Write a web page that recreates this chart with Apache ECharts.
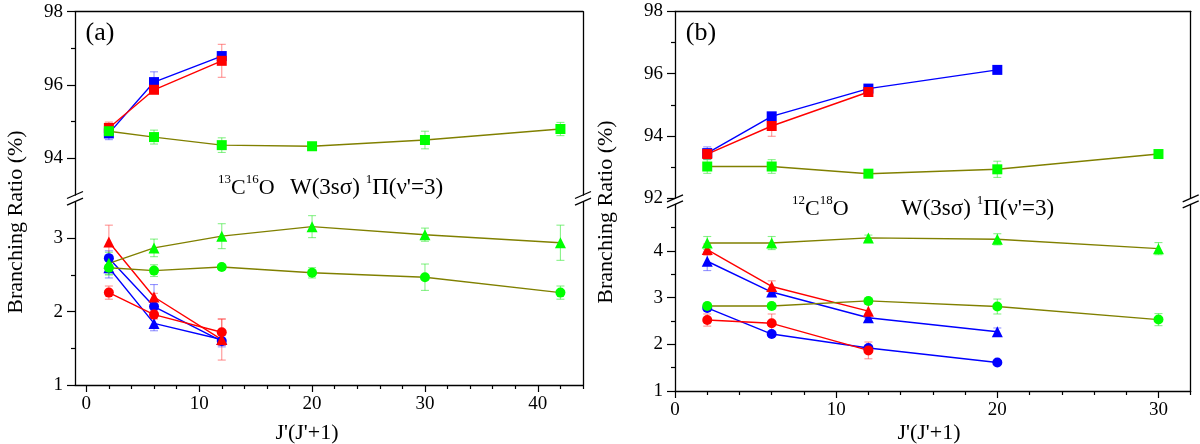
<!DOCTYPE html>
<html><head><meta charset="utf-8">
<script src="https://cdn.jsdelivr.net/npm/echarts@6/dist/echarts.min.js"></script>
<style>html,body{margin:0;padding:0;background:#fff}#c{width:1200px;height:444px}</style>
</head><body><div id="c"></div>
<script>
// ---------- Panel (a): 13C16O ----------
const xA = [2, 6, 12, 20, 30, 42];
const aBlueSq = [94.68, 96.08, 96.79];   const aBlueSqErr = [0.17, 0.28, 0.10];
const aRedSq = [94.83, 95.87, 96.66];    const aRedSqErr = [0.16, 0.06, 0.45];
const aGreenSq = [94.74, 94.58, 94.36, 94.33, 94.50, 94.80];
const aGreenSqErr = [0.14, 0.19, 0.20, 0.06, 0.24, 0.18];
const aBlueCirc = [2.73, 2.07, 1.60];    const aBlueCircErr = [0.10, 0.30, 0.08];
const aBlueTri = [2.60, 1.84, 1.62];     const aBlueTriErr = [0.14, 0.10, 0.08];
const aRedTri = [2.95, 2.20, 1.62];      const aRedTriErr = [0.23, 0.05, 0.28];
const aRedCirc = [2.26, 1.96, 1.72];     const aRedCircErr = [0.09, 0.06, 0.18];
const aGreenTri = [2.66, 2.87, 3.03, 3.16, 3.05, 2.94];
const aGreenTriErr = [0.15, 0.12, 0.17, 0.15, 0.09, 0.24];
const aGreenCirc = [2.60, 2.56, 2.61, 2.53, 2.47, 2.26];
const aGreenCircErr = [0.10, 0.08, 0.03, 0.07, 0.18, 0.09];

// ---------- Panel (b): 12C18O ----------
const xB = [2, 6, 12, 20, 30];
const bBlueSq = [93.45, 94.63, 95.52, 96.12]; const bBlueSqErr = [0.20, 0.06, 0.06, 0.05];
const bRedSq = [93.42, 94.32, 95.41];         const bRedSqErr = [0.10, 0.33, 0.08];
const bGreenSq = [93.02, 93.02, 92.79, 92.93, 93.42];
const bGreenSqErr = [0.22, 0.22, 0.05, 0.26, 0.05];
const bBlueTri = [3.78, 3.12, 2.57, 2.27];    const bBlueTriErr = [0.20, 0.06, 0.08, 0.08];
const bBlueCirc = [2.78, 2.22, 1.92, 1.61];   const bBlueCircErr = [0.05, 0.05, 0.05, 0.03];
const bRedTri = [4.03, 3.24, 2.71];           const bRedTriErr = [0.12, 0.12, 0.15];
const bRedCirc = [2.52, 2.45, 1.87];          const bRedCircErr = [0.13, 0.20, 0.18];
const bGreenTri = [4.17, 4.17, 4.28, 4.25, 4.05];
const bGreenTriErr = [0.14, 0.14, 0.06, 0.12, 0.13];
const bGreenCirc = [2.82, 2.82, 2.93, 2.81, 2.53];
const bGreenCircErr = [0.06, 0.06, 0.06, 0.16, 0.13];

// ---------- ticks ----------
const aXTicks = [0, 10, 20, 30, 40];
const aXMinor = [2, 4, 6, 8, 12, 14, 16, 18, 22, 24, 26, 28, 32, 34, 36, 38, 42, 44];
const bXTicks = [0, 10, 20, 30];
const bXMinor = [2, 4, 6, 8, 12, 14, 16, 18, 22, 24, 26, 28, 32];
const aUpTicks = [94, 96, 98];  const aUpMinor = [95, 97];
const aLoTicks = [1, 2, 3];     const aLoMinor = [1.5, 2.5];
const bUpTicks = [92, 94, 96, 98]; const bUpMinor = [93, 95, 97];
const bLoTicks = [1, 2, 3, 4];  const bLoMinor = [1.5, 2.5, 3.5, 4.5];

const FONT = "'Liberation Serif','Times New Roman',serif";
const GA = {left: 75, right: 583, upTop: 11.7, upBot: 195, loTop: 201.7, loBot: 385};
const GB = {left: 675, right: 1190.7, upTop: 11.3, upBot: 198.3, loTop: 204.3, loBot: 391};

const BLUE = '#0000ff', RED = '#ff0000', GREEN = '#00ff00', OLIVE = '#808000';
const BLUE_E = 'rgba(60,60,255,0.55)', RED_E = 'rgba(255,60,60,0.55)', GREEN_E = 'rgba(40,230,40,0.55)';

function grid(left, right, top, bot) {
  return {left: left, top: top, width: right - left, height: bot - top, containLabel: false, outerBoundsMode: 'none'};
}
const line = {show: true, onZero: false, lineStyle: {color: '#000', width: 1.3}};
function xLineOnly(g, min, max, pos) {
  return {gridIndex: g, type: 'value', min: min, max: max, position: pos, axisLine: line,
    axisTick: {show: false}, axisLabel: {show: false}, splitLine: {show: false}};
}
function xMain(g, min, max, ticks) {
  return {gridIndex: g, type: 'value', min: min, max: max, position: 'bottom', axisLine: line,
    axisTick: {show: true, length: 7, customValues: ticks, lineStyle: {color: '#000', width: 1.2}},
    axisLabel: {show: true, customValues: ticks, fontFamily: FONT, fontSize: 19, color: '#000', margin: 10},
    splitLine: {show: false}};
}
function xMinor(g, min, max, ticks) {
  return {gridIndex: g, type: 'value', min: min, max: max, position: 'bottom', axisLine: {show: false, onZero: false},
    axisTick: {show: true, length: 4, customValues: ticks, lineStyle: {color: '#000', width: 1.2}},
    axisLabel: {show: false}, splitLine: {show: false}};
}
function yMain(g, min, max, ticks) {
  return {gridIndex: g, type: 'value', min: min, max: max, position: 'left', axisLine: line,
    axisTick: {show: true, length: 8, customValues: ticks, lineStyle: {color: '#000', width: 1.2}},
    axisLabel: {show: true, customValues: ticks, fontFamily: FONT, fontSize: 19, color: '#000', margin: 12},
    splitLine: {show: false}};
}
function yMinor(g, min, max, ticks) {
  return {gridIndex: g, type: 'value', min: min, max: max, position: 'left', axisLine: {show: false, onZero: false},
    axisTick: {show: true, length: 4, customValues: ticks, lineStyle: {color: '#000', width: 1.2}},
    axisLabel: {show: false}, splitLine: {show: false}};
}
function yRight(g, min, max) {
  return {gridIndex: g, type: 'value', min: min, max: max, position: 'right', axisLine: line,
    axisTick: {show: false}, axisLabel: {show: false}, splitLine: {show: false}};
}

const xAxes = [
  xLineOnly(0, -1, 44, 'top'),     // 0 panel a upper
  xMain(1, -1, 44, aXTicks),       // 1 panel a lower
  xMinor(1, -1, 44, aXMinor),      // 2
  xLineOnly(2, 0, 32, 'top'),      // 3 panel b upper
  xMain(3, 0, 32, bXTicks),        // 4 panel b lower
  xMinor(3, 0, 32, bXMinor)        // 5
];
const yAxes = [
  yMain(0, 93, 98, aUpTicks), yMinor(0, 93, 98, aUpMinor), yRight(0, 93, 98),     // 0,1,2
  yMain(1, 1, 3.5, aLoTicks), yMinor(1, 1, 3.5, aLoMinor), yRight(1, 1, 3.5),     // 3,4,5
  yMain(2, 92, 98, bUpTicks), yMinor(2, 92, 98, bUpMinor), yRight(2, 92, 98),     // 6,7,8
  yMain(3, 1, 5, bLoTicks), yMinor(3, 1, 5, bLoMinor), yRight(3, 1, 5)            // 9,10,11
];

function errRender(color) {
  return function (params, api) {
    const x = api.value(0), y = api.value(1), e = api.value(2);
    const t = api.coord([x, y + e]), b = api.coord([x, y - e]);
    const hw = 4, st = {stroke: color, lineWidth: 1.1};
    return {type: 'group', children: [
      {type: 'line', shape: {x1: t[0], y1: t[1], x2: b[0], y2: b[1]}, style: st},
      {type: 'line', shape: {x1: t[0] - hw, y1: t[1], x2: t[0] + hw, y2: t[1]}, style: st},
      {type: 'line', shape: {x1: b[0] - hw, y1: b[1], x2: b[0] + hw, y2: b[1]}, style: st}
    ]};
  };
}

const errs = [], lines = [], marks = [];
function add(xs, ys, es, sym, color, lineColor, errColor, xi, yi) {
  const pts = ys.map((v, i) => [xs[i], v]);
  errs.push({type: 'custom', xAxisIndex: xi, yAxisIndex: yi, z: 1, silent: true, clip: false,
    encode: {x: 0, y: 1}, data: ys.map((v, i) => [xs[i], v, es[i]]), renderItem: errRender(errColor)});
  lines.push({type: 'line', xAxisIndex: xi, yAxisIndex: yi, z: 2, silent: true, data: pts,
    symbol: 'none', lineStyle: {color: lineColor, width: 1.4}});
  marks.push({type: 'scatter', xAxisIndex: xi, yAxisIndex: yi, z: 3, silent: true, data: pts,
    symbol: sym, symbolSize: sym === 'triangle' ? 11 : 10, itemStyle: {color: color, opacity: 1}});
}
// panel a upper (grid 0: xAxis 0, yAxis 0)
add(xA, aBlueSq, aBlueSqErr, 'rect', BLUE, BLUE, BLUE_E, 0, 0);
add(xA, aRedSq, aRedSqErr, 'rect', RED, RED, RED_E, 0, 0);
add(xA, aGreenSq, aGreenSqErr, 'rect', GREEN, OLIVE, GREEN_E, 0, 0);
// panel a lower (grid 1: xAxis 1, yAxis 3)
add(xA, aBlueCirc, aBlueCircErr, 'circle', BLUE, BLUE, BLUE_E, 1, 3);
add(xA, aBlueTri, aBlueTriErr, 'triangle', BLUE, BLUE, BLUE_E, 1, 3);
add(xA, aRedTri, aRedTriErr, 'triangle', RED, RED, RED_E, 1, 3);
add(xA, aRedCirc, aRedCircErr, 'circle', RED, RED, RED_E, 1, 3);
add(xA, aGreenTri, aGreenTriErr, 'triangle', GREEN, OLIVE, GREEN_E, 1, 3);
add(xA, aGreenCirc, aGreenCircErr, 'circle', GREEN, OLIVE, GREEN_E, 1, 3);
// panel b upper (grid 2: xAxis 3, yAxis 6)
add(xB, bBlueSq, bBlueSqErr, 'rect', BLUE, BLUE, BLUE_E, 3, 6);
add(xB, bRedSq, bRedSqErr, 'rect', RED, RED, RED_E, 3, 6);
add(xB, bGreenSq, bGreenSqErr, 'rect', GREEN, OLIVE, GREEN_E, 3, 6);
// panel b lower (grid 3: xAxis 4, yAxis 9)
add(xB, bBlueTri, bBlueTriErr, 'triangle', BLUE, BLUE, BLUE_E, 4, 9);
add(xB, bBlueCirc, bBlueCircErr, 'circle', BLUE, BLUE, BLUE_E, 4, 9);
add(xB, bRedTri, bRedTriErr, 'triangle', RED, RED, RED_E, 4, 9);
add(xB, bRedCirc, bRedCircErr, 'circle', RED, RED, RED_E, 4, 9);
add(xB, bGreenTri, bGreenTriErr, 'triangle', GREEN, OLIVE, GREEN_E, 4, 9);
add(xB, bGreenCirc, bGreenCircErr, 'circle', GREEN, OLIVE, GREEN_E, 4, 9);

// break marks "//" on both sides of each panel
function breakMarks(G) {
  const out = [];
  [G.left, G.right].forEach(function (x) {
    [G.upBot, G.loTop].forEach(function (y) {
      out.push({type: 'line', shape: {x1: x - 8, y1: y + 3.5, x2: x + 8, y2: y - 3.5},
        style: {stroke: '#000', lineWidth: 1.3}});
    });
  });
  return out;
}
function txt(x, y, text, size, extra) {
  return Object.assign({type: 'text', x: x, y: y,
    style: {text: text, fontFamily: FONT, fontSize: size, fill: '#000', align: 'center', verticalAlign: 'middle'}}, extra || {});
}
const supRich = {
  m: {fontFamily: FONT, fontSize: 22, lineHeight: 26, verticalAlign: 'bottom'},
  w: {fontFamily: FONT, fontSize: 23, lineHeight: 26, verticalAlign: 'bottom'},
  s: {fontFamily: FONT, fontSize: 13, lineHeight: 14, verticalAlign: 'top'}
};
function richTxt(x, y, text) {
  return {type: 'text', x: x, y: y,
    style: {text: text, fontFamily: FONT, fontSize: 22, fill: '#000', align: 'left', verticalAlign: 'middle', rich: supRich}};
}

const graphics = [].concat(
  breakMarks(GA), breakMarks(GB),
  [
    txt(100, 33, '(a)', 26),
    txt(701, 33, '(b)', 26),
    richTxt(218, 186, '{s|13}{m|C}{s|16}{m|O}'),
    richTxt(290, 186, '{w|W(3sσ) }{s|1}{w|Π(ν\'=3)}'),
    richTxt(792, 207, '{s|12}{m|C}{s|18}{m|O}'),
    richTxt(901, 207, '{w|W(3sσ) }{s|1}{w|Π(ν\'=3)}'),
    txt(16, 222, 'Branching Ratio (%)', 22, {rotation: Math.PI / 2}),
    txt(606, 212, 'Branching Ratio (%)', 22, {rotation: Math.PI / 2}),
    txt(307, 433, "J'(J'+1)", 22),
    txt(929, 433, "J'(J'+1)", 22)
  ]
);

const chart = echarts.init(document.getElementById('c'), null, {renderer: 'canvas'});
chart.setOption({
  animation: false,
  backgroundColor: '#fff',
  grid: [
    grid(GA.left, GA.right, GA.upTop, GA.upBot),
    grid(GA.left, GA.right, GA.loTop, GA.loBot),
    grid(GB.left, GB.right, GB.upTop, GB.upBot),
    grid(GB.left, GB.right, GB.loTop, GB.loBot)
  ],
  xAxis: xAxes,
  yAxis: yAxes,
  series: [].concat(errs, lines, marks),
  graphic: graphics
});
</script>
</body></html>
